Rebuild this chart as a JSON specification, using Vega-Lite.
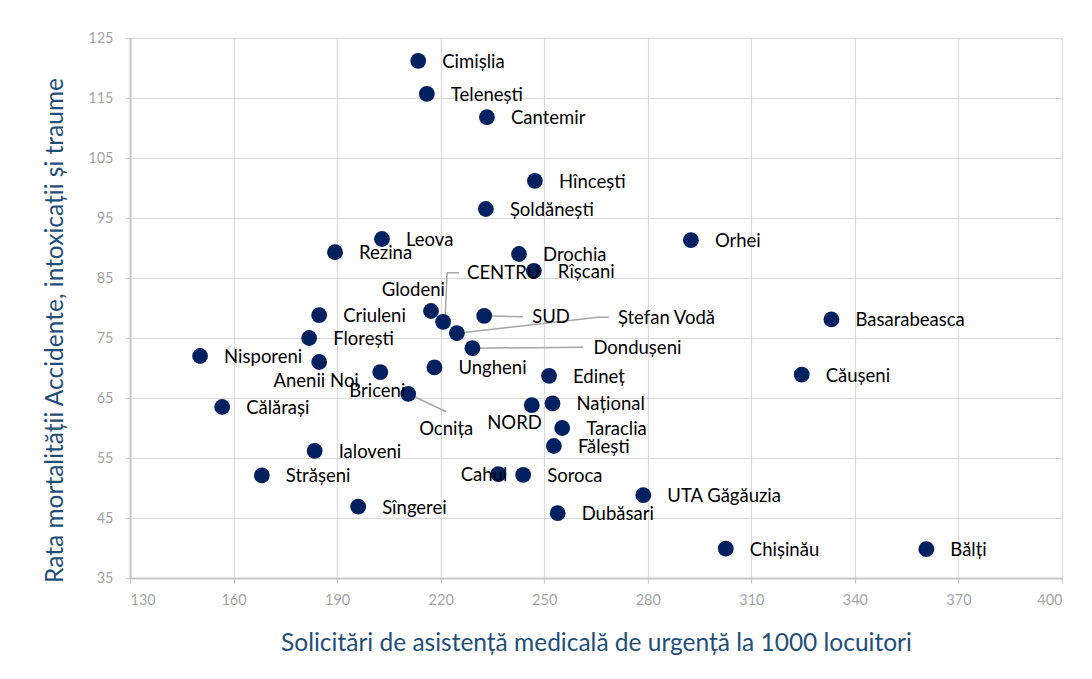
{
  "$schema": "https://vega.github.io/schema/vega-lite/v6.json",
  "width": 932,
  "height": 540,
  "autosize": "none",
  "padding": {"left": 130, "top": 38, "right": 30, "bottom": 101},
  "background": "white",
  "config": {
    "view": {"stroke": null},
    "font": "Lato",
    "text": {"font": "Lato", "fontSize": 18.5, "color": "#000000", "baseline": "middle"},
    "axis": {
      "gridColor": "#d9d9d9",
      "gridWidth": 1.2,
      "domainColor": "#c8c8c8",
      "domainWidth": 2,
      "tickColor": "#c8c8c8",
      "tickSize": 5,
      "tickWidth": 1.2,
      "labelColor": "#a6a6a6",
      "labelFont": "Lato",
      "labelFontSize": 14.5,
      "titleColor": "#1f4e79",
      "titleFont": "Lato",
      "titleFontSize": 24.5,
      "titleFontWeight": "normal"
    }
  },
  "data": {
    "values": [
      {"name": "Cimișlia", "x": 213.5, "y": 121.2},
      {"name": "Telenești", "x": 216.0, "y": 115.7},
      {"name": "Cantemir", "x": 233.4, "y": 111.8},
      {"name": "Hîncești", "x": 247.3, "y": 101.2},
      {"name": "Șoldănești", "x": 233.1, "y": 96.5},
      {"name": "Leova", "x": 203.0, "y": 91.5},
      {"name": "Rezina", "x": 189.4, "y": 89.3},
      {"name": "Drochia", "x": 242.7, "y": 89.0},
      {"name": "Rîșcani", "x": 247.0, "y": 86.2},
      {"name": "Orhei", "x": 292.5, "y": 91.3},
      {"name": "CENTRU", "x": 220.7, "y": 77.7},
      {"name": "Glodeni", "x": 217.2, "y": 79.5},
      {"name": "SUD", "x": 232.6, "y": 78.7},
      {"name": "Ștefan Vodă", "x": 224.7, "y": 75.8},
      {"name": "Dondușeni", "x": 229.2, "y": 73.3},
      {"name": "Criuleni", "x": 184.8, "y": 78.8},
      {"name": "Florești", "x": 181.9, "y": 75.0},
      {"name": "Nisporeni", "x": 150.3, "y": 72.0},
      {"name": "Anenii Noi", "x": 184.8, "y": 71.0},
      {"name": "Briceni", "x": 202.5, "y": 69.3},
      {"name": "Ocnița", "x": 210.6, "y": 65.7},
      {"name": "Ungheni", "x": 218.2, "y": 70.1},
      {"name": "Edineț", "x": 251.4, "y": 68.7},
      {"name": "Basarabeasca", "x": 333.2, "y": 78.1},
      {"name": "Căușeni", "x": 324.6, "y": 68.9},
      {"name": "Călărași", "x": 156.7, "y": 63.5},
      {"name": "Național", "x": 252.4, "y": 64.1},
      {"name": "NORD", "x": 246.4, "y": 63.8},
      {"name": "Taraclia", "x": 255.2, "y": 60.0},
      {"name": "Fălești", "x": 252.8, "y": 57.0},
      {"name": "Ialoveni", "x": 183.5, "y": 56.2},
      {"name": "Cahul", "x": 236.7, "y": 52.3},
      {"name": "Soroca", "x": 243.9, "y": 52.2},
      {"name": "Strășeni", "x": 168.2, "y": 52.1},
      {"name": "UTA Găgăuzia", "x": 278.7, "y": 48.8},
      {"name": "Sîngerei", "x": 196.1, "y": 46.9},
      {"name": "Dubăsari", "x": 253.9, "y": 45.8},
      {"name": "Chișinău", "x": 302.6, "y": 39.9},
      {"name": "Bălți", "x": 360.7, "y": 39.8}
    ]
  },
  "encoding": {
    "x": {
      "field": "x", "type": "quantitative",
      "scale": {"domain": [130, 400], "nice": false, "zero": false},
      "axis": {"values": [130, 160, 190, 220, 250, 280, 310, 340, 370, 400], "labelPadding": 10, "title": "Solicitări de asistență medicală de urgență la 1000 locuitori", "titlePadding": 25}
    },
    "y": {
      "field": "y", "type": "quantitative",
      "scale": {"domain": [35, 125], "nice": false, "zero": false},
      "axis": {"values": [35, 45, 55, 65, 75, 85, 95, 105, 115, 125], "labelPadding": 12, "title": "Rata mortalității Accidente, intoxicații și traume", "titlePadding": 20, "titleY": 292}
    }
  },
  "layer": [
    {"transform": [{"filter": "datum.name === 'CENTRU'"}], "mark": {"type": "rule", "color": "#a6a6a6", "strokeWidth": 1.5, "xOffset": 2, "yOffset": -3, "x2Offset": 4, "y2Offset": -49}, "encoding": {"x2": {"field": "x"}, "y2": {"field": "y"}}},
    {"transform": [{"filter": "datum.name === 'CENTRU'"}], "mark": {"type": "rule", "color": "#a6a6a6", "strokeWidth": 1.5, "xOffset": 4, "yOffset": -49, "x2Offset": 16, "y2Offset": -49}, "encoding": {"x2": {"field": "x"}, "y2": {"field": "y"}}},
    {"transform": [{"filter": "datum.name === 'SUD'"}], "mark": {"type": "rule", "color": "#a6a6a6", "strokeWidth": 1.5, "xOffset": 0, "yOffset": 0, "x2Offset": 39, "y2Offset": 1}, "encoding": {"x2": {"field": "x"}, "y2": {"field": "y"}}},
    {"transform": [{"filter": "datum.name === 'Ștefan Vodă'"}], "mark": {"type": "rule", "color": "#a6a6a6", "strokeWidth": 1.5, "xOffset": 0, "yOffset": 0, "x2Offset": 141, "y2Offset": -16}, "encoding": {"x2": {"field": "x"}, "y2": {"field": "y"}}},
    {"transform": [{"filter": "datum.name === 'Ștefan Vodă'"}], "mark": {"type": "rule", "color": "#a6a6a6", "strokeWidth": 1.5, "xOffset": 141, "yOffset": -16, "x2Offset": 152, "y2Offset": -16}, "encoding": {"x2": {"field": "x"}, "y2": {"field": "y"}}},
    {"transform": [{"filter": "datum.name === 'Dondușeni'"}], "mark": {"type": "rule", "color": "#a6a6a6", "strokeWidth": 1.5, "xOffset": 0, "yOffset": 0, "x2Offset": 111, "y2Offset": -1}, "encoding": {"x2": {"field": "x"}, "y2": {"field": "y"}}},
    {"transform": [{"filter": "datum.name === 'Ocnița'"}], "mark": {"type": "rule", "color": "#a6a6a6", "strokeWidth": 1.5, "xOffset": 0, "yOffset": 0, "x2Offset": 38, "y2Offset": 18}, "encoding": {"x2": {"field": "x"}, "y2": {"field": "y"}}},
    {"mark": {"type": "circle", "color": "#002060", "opacity": 1, "size": 250}},
    {"transform": [{"filter": {"field": "name", "oneOf": ["Cimișlia", "Telenești", "Cantemir", "Hîncești", "Șoldănești", "Leova", "Rezina", "Drochia", "Rîșcani", "Orhei", "Criuleni", "Florești", "Nisporeni", "Ungheni", "Edineț", "Basarabeasca", "Căușeni", "Călărași", "Național", "Taraclia", "Fălești", "Ialoveni", "Strășeni", "Soroca", "UTA Găgăuzia", "Sîngerei", "Dubăsari", "Chișinău", "Bălți"]}}],
     "mark": {"type": "text", "align": "left", "dx": 24, "dy": 1}, "encoding": {"text": {"field": "name"}}},
    {"transform": [{"filter": {"field": "name", "oneOf": ["Anenii Noi", "Briceni"]}}],
     "mark": {"type": "text", "align": "center", "dx": -3, "dy": 19}, "encoding": {"text": {"field": "name"}}},
    {"transform": [{"filter": "datum.name === 'Glodeni'"}],
     "mark": {"type": "text", "align": "right", "dx": 14, "dy": -21}, "encoding": {"text": {"field": "name"}}},
    {"transform": [{"filter": "datum.name === 'NORD'"}],
     "mark": {"type": "text", "align": "right", "dx": 10, "dy": 18}, "encoding": {"text": {"field": "name"}}},
    {"transform": [{"filter": "datum.name === 'Cahul'"}],
     "mark": {"type": "text", "align": "right", "dx": 9, "dy": 1}, "encoding": {"text": {"field": "name"}}},
    {"transform": [{"filter": "datum.name === 'CENTRU'"}],
     "mark": {"type": "text", "align": "left", "dx": 24, "dy": -49}, "encoding": {"text": {"field": "name"}}},
    {"transform": [{"filter": "datum.name === 'SUD'"}],
     "mark": {"type": "text", "align": "left", "dx": 48, "dy": 1}, "encoding": {"text": {"field": "name"}}},
    {"transform": [{"filter": "datum.name === 'Ștefan Vodă'"}],
     "mark": {"type": "text", "align": "left", "dx": 161, "dy": -15}, "encoding": {"text": {"field": "name"}}},
    {"transform": [{"filter": "datum.name === 'Dondușeni'"}],
     "mark": {"type": "text", "align": "left", "dx": 121, "dy": 0}, "encoding": {"text": {"field": "name"}}},
    {"transform": [{"filter": "datum.name === 'Ocnița'"}],
     "mark": {"type": "text", "align": "center", "dx": 38, "dy": 35}, "encoding": {"text": {"field": "name"}}}
  ]
}
